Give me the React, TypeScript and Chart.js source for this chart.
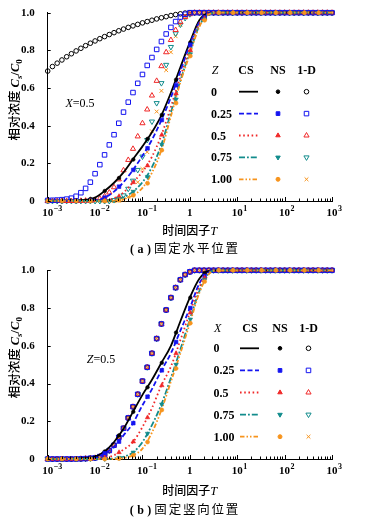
import React, { useEffect, useRef } from "react";
import { Chart, registerables } from "chart.js";

Chart.register(...registerables);

// ---------------- sample times ----------------
// 1-D analytic solution samples (0.1 decade spacing)
const T_1D = [
  0.001, 0.001259, 0.001585, 0.001995, 0.002512, 0.003162, 0.003981, 0.005012, 0.00631, 0.007943,
  0.01, 0.01259, 0.01585, 0.01995, 0.02512, 0.03162, 0.03981, 0.05012, 0.0631, 0.07943,
  0.1, 0.1259, 0.1585, 0.1995, 0.2512, 0.3162, 0.3981, 0.5012, 0.631, 0.7943,
  1, 1.259, 1.585, 1.995, 2.512, 3.162, 3.981, 5.012, 6.31, 7.943,
  10, 12.59, 15.85, 19.95, 25.12, 31.62, 39.81, 50.12, 63.1, 79.43,
  100, 125.9, 158.5, 199.5, 251.2, 316.2, 398.1, 501.2, 631, 794.3,
  1000,
];
// numerical solution (NS) output times
const T_NS = [
  0.001, 0.002, 0.004, 0.008, 0.016, 0.032, 0.064, 0.128, 0.256, 0.512,
  1.024, 2.048, 4.096, 8.192, 16.384, 32.768, 65.536, 131.072, 262.144, 524.288,
];
// closed solution (CS) curve samples
const T_CS = [
  0.001, 0.003162, 0.01, 0.01585, 0.02512, 0.03981, 0.0631, 0.1, 0.1585, 0.2512,
  0.3981, 0.631, 1, 1.585, 2.512, 3.981, 10, 1000,
];

const PARAM_LABELS = ["0", "0.25", "0.5", "0.75", "1.00"];
const X_TICK_VALUES = [0.001, 0.01, 0.1, 1, 10, 100, 1000];
const X_TICK_LABELS: [string, string][] = [
  ["10", "\u22123"], ["10", "\u22122"], ["10", "\u22121"], ["1", ""], ["10", "1"], ["10", "2"], ["10", "3"],
];
const Y_TICKS = [0, 0.2, 0.4, 0.6, 0.8, 1.0];

// ---------------- panel (a): X = 0.5, varying Z ----------------
const A_CS_Z0 = [0, 0.001, 0.018, 0.053, 0.097, 0.152, 0.222, 0.29, 0.365, 0.455, 0.575, 0.71, 0.842, 0.96, 0.998, 1, 1, 1];
const A_CS_Z025 = [0, 0, 0.004, 0.018, 0.05, 0.1, 0.165, 0.24, 0.325, 0.43, 0.55, 0.69, 0.83, 0.95, 0.997, 1, 1, 1];
const A_CS_Z05 = [0, 0, 0, 0.003, 0.015, 0.045, 0.099, 0.155, 0.235, 0.35, 0.5, 0.66, 0.81, 0.94, 0.995, 1, 1, 1];
const A_CS_Z075 = [0, 0, 0, 0, 0.005, 0.02, 0.05, 0.1, 0.18, 0.3, 0.47, 0.64, 0.79, 0.93, 0.992, 1, 1, 1];
const A_CS_Z1 = [0, 0, 0, 0, 0.002, 0.01, 0.03, 0.07, 0.15, 0.27, 0.45, 0.63, 0.78, 0.925, 0.99, 1, 1, 1];

const A_NS_Z0 = [0, 0, 0.001, 0.011, 0.053, 0.122, 0.22, 0.33, 0.457, 0.644, 0.842, 0.977, 1, 1, 1, 1, 1, 1, 1, 1];
const A_NS_Z025 = [0, 0, 0, 0.002, 0.018, 0.076, 0.165, 0.28, 0.43, 0.615, 0.83, 0.975, 1, 1, 1, 1, 1, 1, 1, 1];
const A_NS_Z05 = [0, 0, 0, 0, 0.003, 0.025, 0.099, 0.188, 0.351, 0.57, 0.8, 0.97, 1, 1, 1, 1, 1, 1, 1, 1];
const A_NS_Z075 = [0, 0, 0, 0, 0, 0.01, 0.05, 0.129, 0.3, 0.54, 0.78, 0.965, 1, 1, 1, 1, 1, 1, 1, 1];
const A_NS_Z1 = [0, 0, 0, 0, 0, 0.004, 0.03, 0.094, 0.27, 0.52, 0.77, 0.96, 1, 1, 1, 1, 1, 1, 1, 1];

const A_1D_Z0 = [
  0.69, 0.714, 0.732, 0.749, 0.766, 0.782, 0.797, 0.811, 0.825, 0.838,
  0.85, 0.862, 0.873, 0.884, 0.894, 0.904, 0.913, 0.922, 0.93, 0.938,
  0.946, 0.953, 0.96, 0.967, 0.973, 0.979, 0.985, 0.99, 0.994, 0.998,
  1, 1, 1, 1, 1, 1, 1, 1, 1, 1,
  1, 1, 1, 1, 1, 1, 1, 1, 1, 1,
  1, 1, 1, 1, 1, 1, 1, 1, 1, 1,
  1,
];
const A_1D_Z025 = [
  0.003, 0.004, 0.005, 0.007, 0.01, 0.015, 0.025, 0.044, 0.067, 0.1,
  0.145, 0.193, 0.245, 0.298, 0.352, 0.413, 0.472, 0.525, 0.576, 0.625,
  0.672, 0.72, 0.762, 0.805, 0.847, 0.887, 0.922, 0.953, 0.977, 0.992,
  1, 1, 1, 1, 1, 1, 1, 1, 1, 1,
  1, 1, 1, 1, 1, 1, 1, 1, 1, 1,
  1, 1, 1, 1, 1, 1, 1, 1, 1, 1,
  1,
];
const A_1D_Z05 = [
  0, 0, 0, 0, 0, 0, 0, 0.001, 0.002, 0.004,
  0.006, 0.013, 0.025, 0.045, 0.073, 0.115, 0.163, 0.218, 0.277, 0.343,
  0.413, 0.486, 0.56, 0.638, 0.716, 0.79, 0.855, 0.908, 0.95, 0.977,
  0.992, 1, 1, 1, 1, 1, 1, 1, 1, 1,
  1, 1, 1, 1, 1, 1, 1, 1, 1, 1,
  1, 1, 1, 1, 1, 1, 1, 1, 1, 1,
  1,
];
const A_1D_Z075 = [
  0, 0, 0, 0, 0, 0, 0, 0, 0, 0,
  0, 0, 0, 0, 0.005, 0.013, 0.03, 0.065, 0.108, 0.165,
  0.236, 0.324, 0.422, 0.52, 0.626, 0.723, 0.818, 0.89, 0.937, 0.972,
  0.992, 1, 1, 1, 1, 1, 1, 1, 1, 1,
  1, 1, 1, 1, 1, 1, 1, 1, 1, 1,
  1, 1, 1, 1, 1, 1, 1, 1, 1, 1,
  1,
];
const A_1D_Z1 = [
  0, 0, 0, 0, 0, 0, 0, 0, 0, 0,
  0, 0, 0, 0, 0, 0.002, 0.007, 0.022, 0.05, 0.1,
  0.17, 0.26, 0.37, 0.475, 0.585, 0.695, 0.79, 0.875, 0.935, 0.975,
  0.993, 1, 1, 1, 1, 1, 1, 1, 1, 1,
  1, 1, 1, 1, 1, 1, 1, 1, 1, 1,
  1, 1, 1, 1, 1, 1, 1, 1, 1, 1,
  1,
];

// ---------------- panel (b): Z = 0.5, varying X ----------------
const B_CS_X0 = [0, 0, 0.012, 0.04, 0.09, 0.16, 0.25, 0.34, 0.42, 0.51, 0.6, 0.73, 0.855, 0.955, 0.997, 1, 1, 1];
const B_CS_X025 = [0, 0, 0.006, 0.03, 0.065, 0.125, 0.19, 0.285, 0.37, 0.47, 0.56, 0.68, 0.8, 0.93, 0.993, 1, 1, 1];
const B_CS_X05 = [0, 0, 0, 0.005, 0.02, 0.05, 0.09, 0.17, 0.27, 0.39, 0.49, 0.63, 0.775, 0.91, 0.99, 1, 1, 1];
const B_CS_X075 = [0, 0, 0, 0, 0.003, 0.012, 0.035, 0.09, 0.18, 0.29, 0.43, 0.58, 0.74, 0.89, 0.985, 1, 1, 1];
const B_CS_X1 = [0, 0, 0, 0, 0, 0.005, 0.02, 0.055, 0.14, 0.26, 0.41, 0.56, 0.72, 0.88, 0.98, 1, 1, 1];

const B_NS_X0 = [0, 0, 0, 0.005, 0.04, 0.125, 0.25, 0.38, 0.51, 0.67, 0.855, 0.985, 1, 1, 1, 1, 1, 1, 1, 1];
const B_NS_X025 = [0, 0, 0, 0.003, 0.03, 0.092, 0.19, 0.33, 0.47, 0.62, 0.8, 0.97, 1, 1, 1, 1, 1, 1, 1, 1];
const B_NS_X05 = [0, 0, 0, 0, 0.005, 0.035, 0.092, 0.22, 0.39, 0.56, 0.775, 0.96, 1, 1, 1, 1, 1, 1, 1, 1];
const B_NS_X075 = [0, 0, 0, 0, 0, 0.007, 0.035, 0.135, 0.29, 0.5, 0.74, 0.95, 1, 1, 1, 1, 1, 1, 1, 1];
const B_NS_X1 = [0, 0, 0, 0, 0, 0.002, 0.02, 0.09, 0.26, 0.48, 0.72, 0.94, 1, 1, 1, 1, 1, 1, 1, 1];

// the 1-D solution does not depend on X: every X shows the Z = 0.5 curve
const B_1D = A_1D_Z05;

// ---------------- styles ----------------
const SERIF = '"Liberation Serif", "Times New Roman", serif';
const CJK = '"Noto Sans CJK SC", "Noto Sans CJK JP", sans-serif';
const COLORS = ["#000000", "#1414f0", "#f02828", "#128c8c", "#f7941d"];
const LINE_DASH: number[][] = [[], [5, 2.5], [1.6, 2.6], [6, 2, 1.8, 2], [4.5, 2, 1.5, 2, 1.5, 2]];
// drawing order of 1-D markers (lower = on top)
const OD_ORDER = [33, 31, 32, 34, 35];
type Mark = { style: string; r: number; rot: number };
const NS_MARK: Mark[] = [
  { style: "circle", r: 1.8, rot: 0 },
  { style: "rect", r: 2.6, rot: 0 },
  { style: "triangle", r: 2.6, rot: 0 },
  { style: "triangle", r: 2.6, rot: 180 },
  { style: "circle", r: 2.0, rot: 0 },
];
const OD_MARK: Mark[] = [
  { style: "circle", r: 2.3, rot: 0 },
  { style: "rect", r: 3.2, rot: 0 },
  { style: "triangle", r: 3.0, rot: 0 },
  { style: "triangle", r: 3.0, rot: 180 },
  { style: "crossRot", r: 2.7, rot: 0 },
];

type Piece = { t: string; font: string; dy?: number; ls?: number };

function measureRich(ctx: CanvasRenderingContext2D, pieces: Piece[]) {
  let total = 0;
  for (const p of pieces) {
    ctx.font = p.font;
    const ls = p.ls ?? 0;
    if (ls) {
      const chars = [...p.t];
      chars.forEach((ch, i) => {
        total += ctx.measureText(ch).width + (i < chars.length - 1 ? ls : 0);
      });
    } else total += ctx.measureText(p.t).width;
  }
  return total;
}

function drawRich(ctx: CanvasRenderingContext2D, pieces: Piece[], x: number, y: number, align: "left" | "center") {
  const total = measureRich(ctx, pieces);
  let cx = align === "center" ? x - total / 2 : x;
  ctx.textAlign = "left";
  ctx.textBaseline = "alphabetic";
  for (const p of pieces) {
    ctx.font = p.font;
    const ls = p.ls ?? 0;
    const yy = y + (p.dy ?? 0);
    if (ls) {
      const chars = [...p.t];
      chars.forEach((ch, i) => {
        ctx.fillText(ch, cx, yy);
        cx += ctx.measureText(ch).width + (i < chars.length - 1 ? ls : 0);
      });
    } else {
      ctx.fillText(p.t, cx, yy);
      cx += ctx.measureText(p.t).width;
    }
  }
}

function drawMark(ctx: CanvasRenderingContext2D, m: Mark, x: number, y: number, color: string, filled: boolean) {
  ctx.save();
  ctx.strokeStyle = color;
  ctx.fillStyle = color;
  ctx.lineWidth = 1;
  ctx.beginPath();
  let rad = (m.rot * Math.PI) / 180;
  const r = m.r;
  if (m.style === "circle") {
    ctx.arc(x, y, r, 0, Math.PI * 2);
  } else if (m.style === "rect") {
    const s = Math.SQRT1_2 * r;
    ctx.rect(x - s, y - s, 2 * s, 2 * s);
  } else if (m.style === "triangle") {
    for (let k = 0; k < 3; k++) {
      const px = x + Math.sin(rad) * r;
      const py = y - Math.cos(rad) * r;
      if (k === 0) ctx.moveTo(px, py);
      else ctx.lineTo(px, py);
      rad += (2 * Math.PI) / 3;
    }
    ctx.closePath();
  } else if (m.style === "crossRot") {
    rad += Math.PI / 4;
    const xo = Math.cos(rad) * r;
    const yo = Math.sin(rad) * r;
    ctx.moveTo(x - xo, y - yo);
    ctx.lineTo(x + xo, y + yo);
    ctx.moveTo(x + yo, y - xo);
    ctx.lineTo(x - yo, y + xo);
    ctx.stroke();
    ctx.restore();
    return;
  }
  if (filled) ctx.fill();
  ctx.stroke();
  ctx.restore();
}

type PanelCfg = {
  h: number;
  padTop: number;
  xAxisH: number;
  tag: string;
  caption: string;
  param: string;
  noteVar: string;
  noteVal: string;
  noteX: number;
  noteY: number;
  xTitleDy: number;
  captionDy: number;
  legend: { labelX: number; paramX: number; csHeadX: number; csX: number; nsX: number; odX: number; headY: number; rowY0: number; rowDy: number };
  cs: number[][];
  ns: number[][];
  od: number[][];
};

const PANEL_A: PanelCfg = {
  h: 258,
  padTop: 12.7,
  xAxisH: 57,
  tag: "a",
  caption: "固定水平位置",
  param: "Z",
  noteVar: "X",
  noteVal: "=0.5",
  noteX: 80,
  noteY: 107,
  xTitleDy: 33.5,
  captionDy: 51.5,
  legend: { labelX: 211, paramX: 215, csHeadX: 246, csX: 248.5, nsX: 278, odX: 306.5, headY: 57.5, rowY0: 79, rowDy: 21.9 },
  cs: [A_CS_Z0, A_CS_Z025, A_CS_Z05, A_CS_Z075, A_CS_Z1],
  ns: [A_NS_Z0, A_NS_Z025, A_NS_Z05, A_NS_Z075, A_NS_Z1],
  od: [A_1D_Z0, A_1D_Z025, A_1D_Z05, A_1D_Z075, A_1D_Z1],
};

const PANEL_B: PanelCfg = {
  h: 259,
  padTop: 12.3,
  xAxisH: 58,
  tag: "b",
  caption: "固定竖向位置",
  param: "X",
  noteVar: "Z",
  noteVal: "=0.5",
  noteX: 101,
  noteY: 105,
  xTitleDy: 36,
  captionDy: 54.5,
  legend: { labelX: 213.5, paramX: 217.7, csHeadX: 250, csX: 249.5, nsX: 280, odX: 308.5, headY: 58, rowY0: 78, rowDy: 22.1 },
  cs: [B_CS_X0, B_CS_X025, B_CS_X05, B_CS_X075, B_CS_X1],
  ns: [B_NS_X0, B_NS_X025, B_NS_X05, B_NS_X075, B_NS_X1],
  od: [B_1D, B_1D, B_1D, B_1D, B_1D],
};

function buildDatasets(cfg: PanelCfg) {
  const ds: any[] = [];
  for (let i = 0; i < 5; i++) {
    ds.push({
      label: "1-D " + PARAM_LABELS[i],
      data: T_1D.map((t, j) => ({ x: t, y: cfg.od[i][j] })),
      showLine: false,
      pointStyle: OD_MARK[i].style,
      pointRadius: OD_MARK[i].r,
      pointRotation: OD_MARK[i].rot,
      pointBorderWidth: 1,
      pointBorderColor: COLORS[i],
      pointBackgroundColor: "rgba(0,0,0,0)",
      borderColor: COLORS[i],
      backgroundColor: "rgba(0,0,0,0)",
      order: OD_ORDER[i],
      clip: false,
    });
  }
  for (let i = 0; i < 5; i++) {
    ds.push({
      label: "CS " + PARAM_LABELS[i],
      data: T_CS.map((t, j) => ({ x: t, y: cfg.cs[i][j] })),
      showLine: true,
      fill: false,
      borderColor: COLORS[i],
      borderWidth: 1.8,
      borderDash: LINE_DASH[i],
      borderCapStyle: "butt",
      cubicInterpolationMode: "monotone",
      pointRadius: 0,
      order: 20 - i,
      clip: false,
    });
  }
  for (let i = 0; i < 5; i++) {
    ds.push({
      label: "NS " + PARAM_LABELS[i],
      data: T_NS.map((t, j) => ({ x: t, y: cfg.ns[i][j] })),
      showLine: false,
      pointStyle: NS_MARK[i].style,
      pointRadius: NS_MARK[i].r,
      pointRotation: NS_MARK[i].rot,
      pointBorderWidth: 0.6,
      pointBorderColor: COLORS[i],
      pointBackgroundColor: COLORS[i],
      order: 10 - i,
      clip: false,
    });
  }
  return ds;
}

function makeDecor(cfg: PanelCfg) {
  return {
    id: "decor" + cfg.tag,
    afterDraw(chart: any) {
      const ctx: CanvasRenderingContext2D = chart.ctx;
      const xs = chart.scales.x;
      const ys = chart.scales.y;
      const { left, top, bottom } = chart.chartArea;
      ctx.save();
      ctx.strokeStyle = "#000";
      ctx.fillStyle = "#000";
      ctx.lineWidth = 1;
      // inward x ticks (major decades + minor 2..9)
      for (let d = 0; d < X_TICK_VALUES.length; d++) {
        const dec = X_TICK_VALUES[d];
        const maxM = d === X_TICK_VALUES.length - 1 ? 1 : 9;
        for (let m = 1; m <= maxM; m++) {
          const px = Math.round(xs.getPixelForValue(dec * m)) + 0.5;
          const len = m === 1 ? 4 : 2.5;
          ctx.beginPath();
          ctx.moveTo(px, bottom);
          ctx.lineTo(px, bottom - len);
          ctx.stroke();
        }
      }
      // inward y ticks
      for (const v of Y_TICKS) {
        const py = Math.round(ys.getPixelForValue(v)) + 0.5;
        ctx.beginPath();
        ctx.moveTo(left, py);
        ctx.lineTo(left + 3, py);
        ctx.stroke();
      }
      // x tick labels with superscripts
      X_TICK_VALUES.forEach((v, i) => {
        const [base, exp] = X_TICK_LABELS[i];
        const px = xs.getPixelForValue(v);
        ctx.font = `bold 11px ${SERIF}`;
        ctx.textAlign = "center";
        ctx.textBaseline = "alphabetic";
        ctx.fillText(base, px, bottom + 14.5);
        if (exp) {
          const w = ctx.measureText(base).width;
          ctx.font = `bold 8px ${SERIF}`;
          ctx.textAlign = "left";
          ctx.fillText(exp, px + w / 2 + 0.5, bottom + 10);
        }
      });
      // x axis title
      const cxPlot = (chart.chartArea.left + chart.chartArea.right) / 2;
      drawRich(
        ctx,
        [
          { t: "时间因子", font: `500 12px ${CJK}` },
          { t: "T", font: `italic 12.5px ${SERIF}` },
        ],
        cxPlot,
        bottom + cfg.xTitleDy,
        "center"
      );
      // caption
      drawRich(
        ctx,
        [
          { t: "(" + cfg.tag + ")", font: `bold 12px ${SERIF}`, ls: 3.5 },
          { t: " ", font: `12px ${SERIF}` },
          { t: cfg.caption, font: `12.5px ${CJK}`, ls: 1.8 },
        ],
        184,
        bottom + cfg.captionDy,
        "center"
      );
      // y axis title (rotated)
      ctx.save();
      ctx.translate(14, (top + bottom) / 2 - 7);
      ctx.rotate(-Math.PI / 2);
      drawRich(
        ctx,
        [
          { t: "相对浓度", font: `500 12.5px ${CJK}` },
          { t: " ", font: `12px ${SERIF}` },
          { t: "C", font: `italic bold 12.5px ${SERIF}` },
          { t: "s", font: `italic bold 9px ${SERIF}`, dy: 3 },
          { t: "/", font: `bold 12.5px ${SERIF}` },
          { t: "C", font: `italic bold 12.5px ${SERIF}` },
          { t: "0", font: `bold 9px ${SERIF}`, dy: 3 },
        ],
        0,
        4.5,
        "center"
      );
      ctx.restore();
      // annotation
      drawRich(
        ctx,
        [
          { t: cfg.noteVar, font: `italic 12px ${SERIF}` },
          { t: cfg.noteVal, font: `12px ${SERIF}` },
        ],
        cfg.noteX,
        cfg.noteY,
        "center"
      );
      // legend table
      const L = cfg.legend;
      const hy = top + L.headY + 4;
      drawRich(ctx, [{ t: cfg.param, font: `italic 12px ${SERIF}` }], L.paramX, hy, "center");
      drawRich(ctx, [{ t: "CS", font: `bold 12px ${SERIF}` }], L.csHeadX, hy, "center");
      drawRich(ctx, [{ t: "NS", font: `bold 12px ${SERIF}` }], L.nsX, hy, "center");
      drawRich(ctx, [{ t: "1-D", font: `bold 12px ${SERIF}` }], L.odX, hy, "center");
      for (let i = 0; i < 5; i++) {
        const ry = top + L.rowY0 + i * L.rowDy;
        drawRich(ctx, [{ t: PARAM_LABELS[i], font: `bold 12px ${SERIF}` }], L.labelX, ry + 4, "left");
        ctx.save();
        ctx.strokeStyle = COLORS[i];
        ctx.lineWidth = 1.8;
        ctx.setLineDash(LINE_DASH[i]);
        ctx.beginPath();
        ctx.moveTo(L.csX - 9.5, ry);
        ctx.lineTo(L.csX + 9.5, ry);
        ctx.stroke();
        ctx.restore();
        drawMark(ctx, NS_MARK[i], L.nsX, ry, COLORS[i], true);
        drawMark(ctx, OD_MARK[i], L.odX, ry, COLORS[i], false);
      }
      ctx.restore();
    },
  };
}

function Panel({ cfg }: { cfg: PanelCfg }) {
  const ref = useRef<HTMLCanvasElement | null>(null);
  useEffect(() => {
    if (!ref.current) return;
    const chart = new Chart(ref.current, {
      type: "scatter",
      data: { datasets: buildDatasets(cfg) },
      options: {
        responsive: false,
        animation: false,
        devicePixelRatio: 1,
        events: [],
        layout: { padding: { left: 0, right: 36, top: cfg.padTop, bottom: 0 } },
        plugins: {
          legend: { display: false },
          tooltip: { enabled: false },
          title: { display: false },
        },
        scales: {
          x: {
            type: "logarithmic",
            min: 0.001,
            max: 1000,
            position: "bottom",
            grid: { display: false },
            border: { display: true, color: "#000", width: 1 },
            ticks: { display: false },
            afterFit: (s: any) => {
              s.height = cfg.xAxisH;
            },
          },
          y: {
            type: "linear",
            min: 0,
            max: 1,
            grid: { display: false },
            border: { display: true, color: "#000", width: 1 },
            ticks: {
              stepSize: 0.2,
              color: "#000",
              padding: 5,
              font: { family: SERIF, size: 11, weight: "bold" },
              callback: (v: any) => (Number(v) === 0 ? "0" : Number(v).toFixed(1)),
            },
            afterFit: (s: any) => {
              s.width = 47.7;
            },
          },
        },
      } as any,
      plugins: [makeDecor(cfg)],
    });
    return () => chart.destroy();
  }, [cfg]);
  return <canvas ref={ref} width={368} height={cfg.h} style={{ display: "block", width: 368, height: cfg.h }} />;
}

export default function App() {
  return (
    <div style={{ position: "absolute", left: 0, top: 0, width: 368, height: 517, background: "#fff" }}>
      <Panel cfg={PANEL_A} />
      <Panel cfg={PANEL_B} />
    </div>
  );
}
